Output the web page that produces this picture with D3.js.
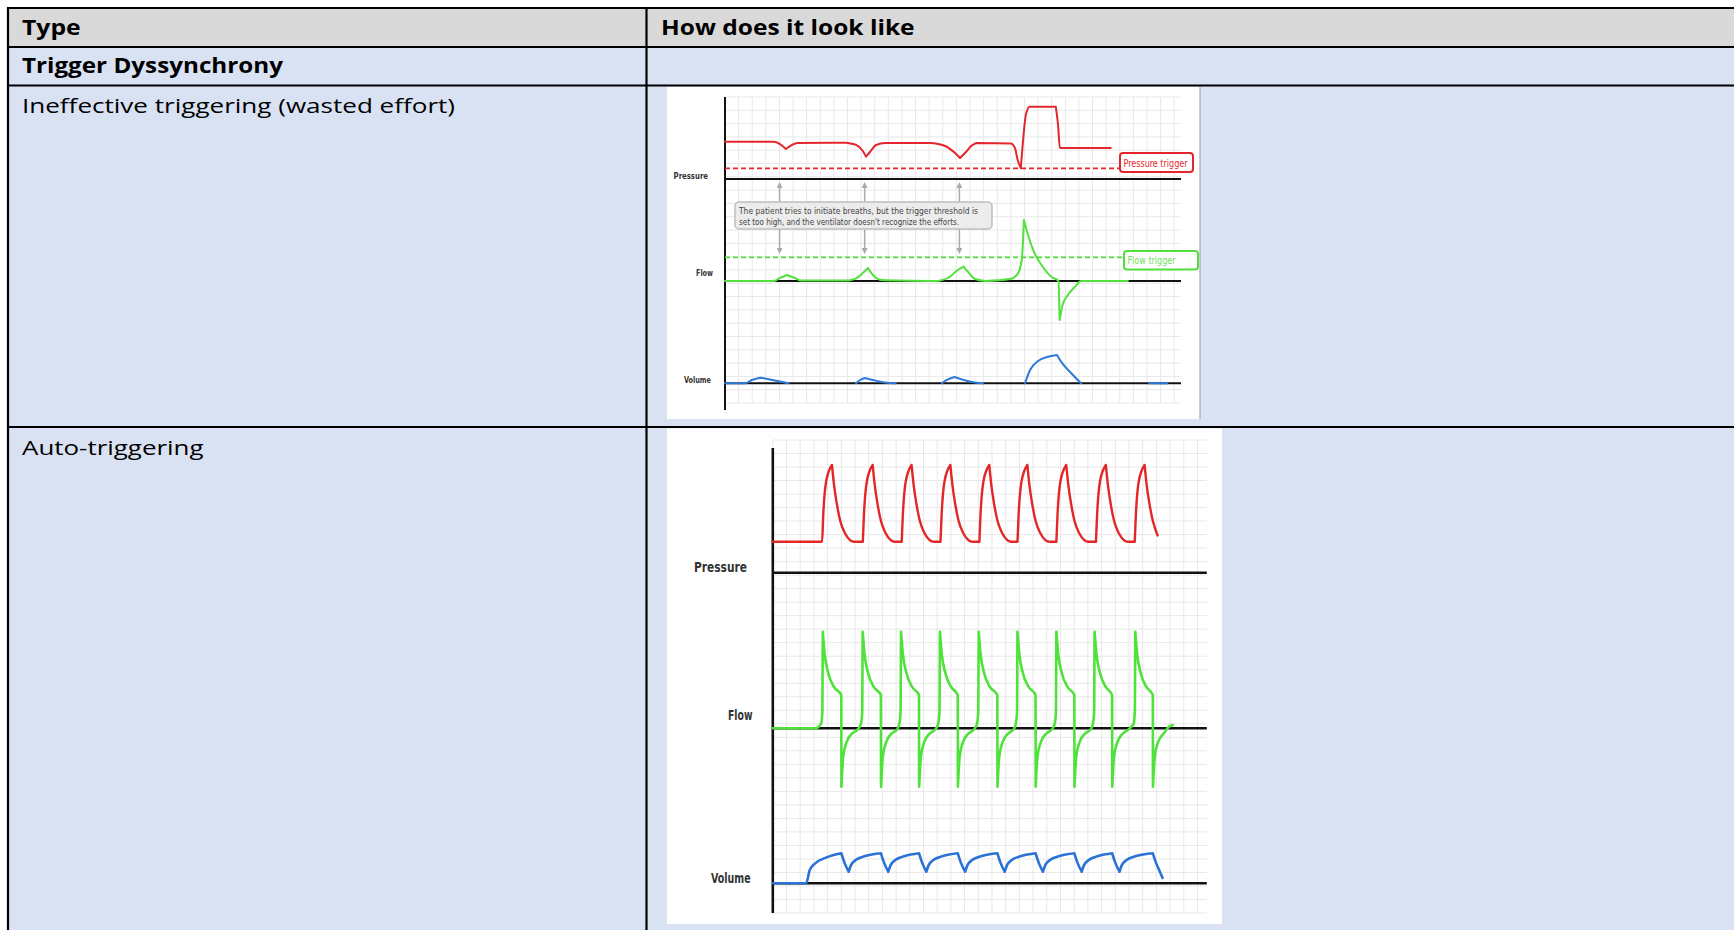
<!DOCTYPE html>
<html><head><meta charset="utf-8">
<script src="https://cdn.jsdelivr.net/npm/d3@7"></script>
<style>html,body{margin:0;padding:0;background:#fff;overflow:hidden}</style>
</head><body>
<svg id="c" width="1734" height="930"></svg>
<script>
// ---------------- DATA ----------------
const headerCells = ["Type", "How does it look like"];
const sectionRow = "Trigger Dyssynchrony";
const typeNames = ["Ineffective triggering (wasted effort)", "Auto-triggering"];
const panelNames = ["Pressure", "Flow", "Volume"];
const calloutLines = ["The patient tries to initiate breaths, but the trigger threshold is",
                      "set too high, and the ventilator doesn't recognize the efforts."];
const triggerLabels = ["Pressure trigger", "Flow trigger"];

// Chart A (ineffective triggering): [time (grid cells), value (grid cells)]
const pressureA = [[0,2.8],[3.6,2.8],[4.48,2.26],[5.33,2.7],[8.89,2.73],[9.63,2.56],[10.07,2.18],[10.36,1.68],[10.65,2.03],[11.1,2.56],[11.76,2.7],[15.14,2.7],[16.17,2.48],[16.9,1.95],[17.27,1.58],[17.7,2.03],[18.08,2.48],[18.44,2.7],[21.0,2.67],[21.3,2.33],[21.5,1.43],[21.73,0.83],[21.9,2.93],[22.1,4.81],[22.38,5.44],[24.3,5.44],[24.47,4.06],[24.6,2.33],[28.34,2.33]];
const flowA = [[0,0],[3.6,0],[4.04,0.23],[4.56,0.45],[5.14,0.23],[5.58,0.04],[9.1,0.04],[9.7,0.23],[10.2,0.68],[10.5,0.98],[10.87,0.45],[11.46,0.08],[15.65,0],[16.5,0.3],[17.1,0.83],[17.53,1.08],[17.85,0.68],[18.37,0.15],[19.1,0],[20.94,0.15],[21.5,0.53],[21.8,1.58],[21.96,4.59],[22.26,3.46],[22.7,2.18],[23.3,1.13],[24.0,0.3],[24.5,0],[24.58,-2.93],[24.8,-1.8],[25.2,-1.05],[25.7,-0.45],[26.16,0],[29.6,0]];
const volumeA = [
  [[0,0],[1.47,0],[1.98,0.25],[2.57,0.42],[3.3,0.29],[4.04,0.14],[4.67,0]],
  [[9.63,0],[9.92,0.25],[10.29,0.4],[10.87,0.25],[11.76,0.06],[12.54,0]],
  [[15.94,0],[16.3,0.25],[16.87,0.47],[17.41,0.29],[18.15,0.1],[18.96,0]],
  [[22.04,0],[22.41,1.0],[23.0,1.68],[23.66,1.98],[24.39,2.13],[24.76,1.53],[25.35,0.85],[26.16,0]],
  [[31.15,0],[32.5,0]]
];
const pressureTriggerA = 0.8;   // dashed threshold level
const flowTriggerA = 1.78;
const triggerEndA = [29.07, 29.3];
const effortTimesA = [4.01, 10.26, 17.22];

// Chart B (auto-triggering)
const pressureB = [[0,2.33],[3.60,2.33],
 [3.68,4.3],[3.90,6.9],[4.32,8.1],[4.47,6.6],[4.67,5.2],[4.92,3.9],[5.27,2.96],[5.67,2.42],[5.92,2.33],
 [6.57,2.33],[6.65,4.3],[6.87,6.9],[7.29,8.1],[7.44,6.6],[7.64,5.2],[7.89,3.9],[8.24,2.96],[8.64,2.42],[8.89,2.33],
 [9.41,2.33],[9.49,4.3],[9.71,6.9],[10.13,8.1],[10.28,6.6],[10.48,5.2],[10.73,3.9],[11.08,2.96],[11.48,2.42],[11.73,2.33],
 [12.24,2.33],[12.32,4.3],[12.54,6.9],[12.96,8.1],[13.11,6.6],[13.31,5.2],[13.56,3.9],[13.91,2.96],[14.31,2.42],[14.56,2.33],
 [15.08,2.33],[15.16,4.3],[15.38,6.9],[15.80,8.1],[15.95,6.6],[16.15,5.2],[16.40,3.9],[16.75,2.96],[17.15,2.42],[17.40,2.33],
 [17.86,2.33],[17.94,4.3],[18.16,6.9],[18.58,8.1],[18.73,6.6],[18.93,5.2],[19.18,3.9],[19.53,2.96],[19.93,2.42],[20.18,2.33],
 [20.70,2.33],[20.78,4.3],[21.00,6.9],[21.42,8.1],[21.57,6.6],[21.77,5.2],[22.02,3.9],[22.37,2.96],[22.77,2.42],[23.02,2.33],
 [23.59,2.33],[23.67,4.3],[23.89,6.9],[24.31,8.1],[24.46,6.6],[24.66,5.2],[24.91,3.9],[25.26,2.96],[25.66,2.42],[25.91,2.33],
 [26.42,2.33],[26.50,4.3],[26.72,6.9],[27.14,8.1],[27.29,6.6],[27.49,5.2],[27.74,3.9],[28.09,2.8]];
const flowB = [[0,0],[3.1,0],
 [3.53,0.35],[3.62,1.3],[3.65,7.26],[3.78,5.63],[4.05,4.14],[4.45,3.13],[5.0,2.5],[5.01,-4.39],[5.14,-2.13],[5.4,-1.0],[5.8,-0.38],[6.2,-0.08],
 [6.44,0.35],[6.53,1.3],[6.56,7.26],[6.69,5.63],[6.96,4.14],[7.36,3.13],[7.89,2.5],[7.90,-4.39],[8.03,-2.13],[8.29,-1.0],[8.69,-0.38],[9.09,-0.08],
 [9.24,0.35],[9.33,1.3],[9.36,7.26],[9.49,5.63],[9.76,4.14],[10.16,3.13],[10.67,2.5],[10.68,-4.39],[10.81,-2.13],[11.07,-1.0],[11.47,-0.38],[11.87,-0.08],
 [12.08,0.35],[12.17,1.3],[12.2,7.26],[12.33,5.63],[12.6,4.14],[13.0,3.13],[13.5,2.5],[13.51,-4.39],[13.64,-2.13],[13.9,-1.0],[14.3,-0.38],[14.7,-0.08],
 [14.91,0.35],[15.0,1.3],[15.03,7.26],[15.16,5.63],[15.43,4.14],[15.83,3.13],[16.39,2.5],[16.4,-4.39],[16.53,-2.13],[16.79,-1.0],[17.19,-0.38],[17.59,-0.08],
 [17.74,0.35],[17.83,1.3],[17.86,7.26],[17.99,5.63],[18.26,4.14],[18.66,3.13],[19.18,2.5],[19.19,-4.39],[19.32,-2.13],[19.58,-1.0],[19.98,-0.38],[20.38,-0.08],
 [20.58,0.35],[20.67,1.3],[20.7,7.26],[20.83,5.63],[21.1,4.14],[21.5,3.13],[22.01,2.5],[22.02,-4.39],[22.15,-2.13],[22.41,-1.0],[22.81,-0.38],[23.21,-0.08],
 [23.37,0.35],[23.46,1.3],[23.49,7.26],[23.62,5.63],[23.89,4.14],[24.29,3.13],[24.77,2.5],[24.78,-4.39],[24.91,-2.13],[25.17,-1.0],[25.57,-0.38],[25.97,-0.08],
 [26.34,0.35],[26.43,1.3],[26.46,7.26],[26.59,5.63],[26.86,4.14],[27.26,3.13],[27.74,2.5],[27.75,-4.39],[27.88,-2.13],[28.14,-1.0],[28.54,-0.38],[28.9,0.1],[29.2,0.25]];
const volumeB = [[0,0],[2.43,0],[2.7,1.0],[3.1,1.5],[3.92,1.95],[5.0,2.26],
 [5.25,1.5],[5.54,0.87],[5.7,1.35],[6.05,1.75],[6.75,2.05],[7.89,2.26],
 [8.14,1.5],[8.43,0.87],[8.59,1.35],[8.94,1.75],[9.64,2.05],[10.67,2.26],
 [10.92,1.5],[11.21,0.87],[11.37,1.35],[11.72,1.75],[12.42,2.05],[13.5,2.26],
 [13.75,1.5],[14.04,0.87],[14.2,1.35],[14.55,1.75],[15.25,2.05],[16.39,2.26],
 [16.64,1.5],[16.93,0.87],[17.09,1.35],[17.44,1.75],[18.14,2.05],[19.18,2.26],
 [19.43,1.5],[19.72,0.87],[19.88,1.35],[20.23,1.75],[20.93,2.05],[22.01,2.26],
 [22.26,1.5],[22.55,0.87],[22.71,1.35],[23.06,1.75],[23.76,2.05],[24.77,2.26],
 [25.02,1.5],[25.31,0.87],[25.47,1.35],[25.82,1.75],[26.52,2.05],[27.74,2.26],
 [27.99,1.5],[28.2,1.0],[28.45,0.4]];

// ---------------- DRAW ----------------
const svg = d3.select("#c");
const W = 1734, H = 930;
const gray = "#d9d9d9", blue = "#d9e2f3";
const FONT = "'Open Sans', 'Noto Sans', sans-serif";
const NARROW = "'DejaVu Sans Condensed', 'Liberation Sans Narrow', 'DejaVu Sans', sans-serif";

// table backgrounds
const rowY = [8, 47, 85.5, 427];
svg.append("rect").attr("x", 8).attr("y", rowY[0]).attr("width", W).attr("height", rowY[1]-rowY[0]).attr("fill", gray);
svg.append("rect").attr("x", 8).attr("y", rowY[1]).attr("width", W).attr("height", H-rowY[1]).attr("fill", blue);

// images (white backgrounds)
const imgA = {x:667, y:87, w:533, h:332};
const imgB = {x:667, y:428.5, w:555, h:495.5};
[imgA, imgB].forEach(b => svg.append("rect").attr("x", b.x).attr("y", b.y).attr("width", b.w).attr("height", b.h).attr("fill", "#fff"));
svg.append("line").attr("x1", imgA.x+imgA.w).attr("x2", imgA.x+imgA.w).attr("y1", imgA.y).attr("y2", imgA.y+imgA.h).attr("stroke", "#aaa").attr("stroke-width", 1.2);

// table borders
const bw = 2.2;
rowY.forEach(y => svg.append("line").attr("x1", 7).attr("x2", W).attr("y1", y).attr("y2", y).attr("stroke", "#000").attr("stroke-width", bw));
svg.append("line").attr("x1", 8).attr("x2", 8).attr("y1", 7).attr("y2", H).attr("stroke", "#000").attr("stroke-width", bw);
svg.append("line").attr("x1", 646.5).attr("x2", 646.5).attr("y1", 7).attr("y2", H).attr("stroke", "#000").attr("stroke-width", bw);

// table texts
function cellText(txt, x, y, bold, len) {
  svg.append("text").attr("x", x).attr("y", y).text(txt)
    .attr("font-family", FONT).attr("font-size", 20.5).attr("font-weight", bold ? 700 : 400)
    .attr("fill", "#000").attr("textLength", len).attr("lengthAdjust", "spacingAndGlyphs");
}
cellText(headerCells[0], 22, 34.5, true, 58.7);
cellText(headerCells[1], 661, 34.5, true, 253.6);
cellText(sectionRow, 22, 72.5, true, 261);
cellText(typeNames[0], 22, 113, false, 433);
cellText(typeNames[1], 22, 455, false, 181.5);

// generic chart
function drawChart(cfg) {
  const g = svg.append("g");
  const x = d3.scaleLinear().domain(cfg.xDomain).range(cfg.xRange);
  const yPanel = cfg.zeros.map(z => d3.scaleLinear().domain([0, 1]).range([z, z - cfg.unitY]));
  const gy = d3.scaleLinear().domain([0, cfg.gridRows]).range([cfg.gridTop, cfg.gridBottom]);
  g.selectAll(".gx").data(d3.range(Math.floor(cfg.xDomain[0]), Math.floor(cfg.xDomain[1]) + 1)).join("line")
    .attr("x1", d => x(d)).attr("x2", d => x(d)).attr("y1", cfg.gridTop).attr("y2", cfg.gridBottom)
    .attr("stroke", "#e8e8e8").attr("stroke-width", 1);
  g.selectAll(".gy").data(d3.range(0, cfg.gridRows + 1)).join("line")
    .attr("x1", cfg.xRange[0]).attr("x2", cfg.xRange[1]).attr("y1", d => gy(d)).attr("y2", d => gy(d))
    .attr("stroke", "#e8e8e8").attr("stroke-width", 1);
  cfg.zeros.forEach((z, i) => g.append("line").attr("x1", cfg.xRange[0]).attr("x2", cfg.xRange[1])
    .attr("y1", yPanel[i](0)).attr("y2", yPanel[i](0)).attr("stroke", "#111").attr("stroke-width", cfg.baseW));
  g.append("line").attr("x1", cfg.xRange[0]).attr("x2", cfg.xRange[0]).attr("y1", cfg.axisTop).attr("y2", cfg.axisBottom)
    .attr("stroke", "#111").attr("stroke-width", cfg.baseW);
  panelNames.forEach((n, i) => g.append("text").attr("x", cfg.labelEnd[i]).attr("y", cfg.labelY[i]).text(n)
    .attr("text-anchor", "end").attr("dominant-baseline", "central")
    .attr("font-family", NARROW).attr("font-weight", 700).attr("font-size", cfg.labelSize).attr("fill", "#333")
    .attr("textLength", cfg.labelW[i]).attr("lengthAdjust", "spacingAndGlyphs"));
  return {g, x, yPanel};
}
// split a series at its peaks/troughs so each piece is monotone and the turning points stay sharp
function pieces(data) {
  const out = []; let cur = [data[0]]; let dir = 0;
  for (let i = 1; i < data.length; i++) {
    const dy = data[i][1] - data[i-1][1];
    const s = dy > 1e-9 ? 1 : dy < -1e-9 ? -1 : 0;
    if (s !== 0 && dir !== 0 && s !== dir) { out.push(cur); cur = [data[i-1]]; }
    if (s !== 0) dir = s;
    cur.push(data[i]);
  }
  out.push(cur);
  return out;
}
function wave(g, data, x, y, color, w) {
  const gen = d3.line().x(d => x(d[0])).y(d => y(d[1])).curve(d3.curveMonotoneX);
  g.append("path").attr("d", pieces(data).map(p => gen(p)).join(""))
    .attr("fill", "none").attr("stroke", color).attr("stroke-width", w)
    .attr("stroke-linejoin", "round").attr("stroke-linecap", "round");
}

// ---- Chart A ----
const A = drawChart({xDomain:[0, 33.5], xRange:[725, 1181], zeros:[179, 281, 383.3], unitY:13.3,
  gridRows:23, gridTop:97, gridBottom:403, axisTop:97, axisBottom:410, baseW:2,
  labelEnd:[708, 713, 711], labelW:[34.4, 17, 27], labelY:[175, 272.7, 379], labelSize:9.5});
const RED = "#e4262c", GREEN = "#52e03c", BLUE = "#2f7ad8";
A.g.append("line").attr("x1", A.x(0)).attr("x2", A.x(triggerEndA[0]))
  .attr("y1", A.yPanel[0](pressureTriggerA)).attr("y2", A.yPanel[0](pressureTriggerA))
  .attr("stroke", RED).attr("stroke-width", 1.6).attr("stroke-dasharray", "5,3");
A.g.append("line").attr("x1", A.x(0)).attr("x2", A.x(triggerEndA[1]))
  .attr("y1", A.yPanel[1](flowTriggerA)).attr("y2", A.yPanel[1](flowTriggerA))
  .attr("stroke", GREEN).attr("stroke-width", 1.6).attr("stroke-dasharray", "5,3");
wave(A.g, pressureA, A.x, A.yPanel[0], RED, 2);
wave(A.g, flowA, A.x, A.yPanel[1], GREEN, 2);
volumeA.forEach(seg => wave(A.g, seg, A.x, A.yPanel[2], BLUE, 2));
const boxes = [{x:1120, y:153, w:73, h:19, c:RED, t:triggerLabels[0], tl:64},
               {x:1124, y:251, w:74, h:18.5, c:GREEN, t:triggerLabels[1], tl:48}];
boxes.forEach(b => {
  A.g.append("rect").attr("x", b.x).attr("y", b.y).attr("width", b.w).attr("height", b.h).attr("rx", 3)
    .attr("fill", "#fff").attr("stroke", b.c).attr("stroke-width", 2);
  A.g.append("text").attr("x", b.x + 3.5).attr("y", b.y + b.h/2 + 0.5).attr("dominant-baseline", "central")
    .text(b.t).attr("font-family", NARROW).attr("font-size", 10).attr("fill", b.c === GREEN ? "#6ee05c" : b.c)
    .attr("textLength", b.tl).attr("lengthAdjust", "spacingAndGlyphs");
});
const defs = svg.append("defs");
defs.append("marker").attr("id", "ah").attr("viewBox", "0 0 10 10").attr("refX", 5).attr("refY", 5)
  .attr("markerWidth", 4).attr("markerHeight", 4).attr("orient", "auto-start-reverse")
  .append("path").attr("d", "M0,0 L10,5 L0,10 z").attr("fill", "#aaa");
effortTimesA.forEach(t => {
  A.g.append("line").attr("x1", A.x(t)).attr("x2", A.x(t)).attr("y1", 202).attr("y2", 185)
    .attr("stroke", "#aaa").attr("stroke-width", 1.5).attr("marker-end", "url(#ah)");
  A.g.append("line").attr("x1", A.x(t)).attr("x2", A.x(t)).attr("y1", 229).attr("y2", 251)
    .attr("stroke", "#aaa").attr("stroke-width", 1.5).attr("marker-end", "url(#ah)");
});
A.g.append("rect").attr("x", 735).attr("y", 202).attr("width", 257).attr("height", 27).attr("rx", 4)
  .attr("fill", "#ececec").attr("stroke", "#bdbdbd").attr("stroke-width", 1.5);
calloutLines.forEach((l, i) => A.g.append("text").attr("x", 739).attr("y", 213.5 + i*11.5).text(l)
  .attr("font-family", NARROW).attr("font-size", 9.5).attr("fill", "#444")
  .attr("textLength", i === 0 ? 239 : 220).attr("lengthAdjust", "spacingAndGlyphs"));

// ---- Chart B ----
const B = drawChart({xDomain:[0, 31.68], xRange:[772.8, 1206.8], zeros:[572.7, 728.3, 883.3], unitY:13.3,
  gridRows:35, gridTop:440, gridBottom:913, axisTop:448, axisBottom:913, baseW:2.6,
  labelEnd:[747, 752.5, 750.6], labelW:[53, 24.5, 39.6], labelY:[566.7, 715, 878], labelSize:14});
wave(B.g, pressureB, B.x, B.yPanel[0], "#e32626", 2.4);
wave(B.g, flowB, B.x, B.yPanel[1], "#4fe23a", 2.6);
wave(B.g, volumeB, B.x, B.yPanel[2], "#2b72d6", 2.6);
</script>
</body></html>
